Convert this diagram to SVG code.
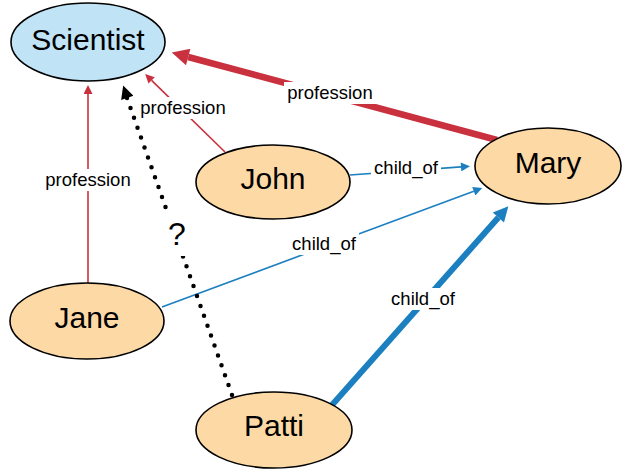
<svg xmlns="http://www.w3.org/2000/svg" width="622" height="471" viewBox="0 0 622 471">
<style>
.node{stroke:#000;stroke-width:1.6}
.sci{fill:#c0e4f6}
.per{fill:#fdd9a6}
.nt{font-family:"Liberation Sans",Arial,sans-serif;font-size:30px;text-anchor:middle;fill:#000}
.lt{font-family:"Liberation Sans",Arial,sans-serif;font-size:18.5px;text-anchor:middle;fill:#000}
.red{stroke:#c8313d;fill:none}
.blue{stroke:#1b7fc0;fill:none}
.dot{stroke:#000;fill:none;stroke-width:4.5;stroke-linecap:round;stroke-dasharray:0 10.5}
.bg{fill:#fff}
</style>
<defs>
<marker id="ar" markerUnits="userSpaceOnUse" viewBox="0 0 10 10" refX="0" refY="5" markerWidth="12" markerHeight="9" orient="auto"><path d="M0,0L10,5L0,10z" fill="#c8313d"/></marker>
<marker id="arB" markerUnits="userSpaceOnUse" viewBox="0 0 10 10" refX="0" refY="5" markerWidth="25" markerHeight="17" orient="auto"><path d="M0,0L10,5L0,10z" fill="#c8313d"/></marker>
<marker id="ab" markerUnits="userSpaceOnUse" viewBox="0 0 10 10" refX="0" refY="5" markerWidth="12" markerHeight="9" orient="auto"><path d="M0,0L10,5L0,10z" fill="#1b7fc0"/></marker>
<marker id="abB" markerUnits="userSpaceOnUse" viewBox="0 0 10 10" refX="0" refY="5" markerWidth="22" markerHeight="15" orient="auto"><path d="M0,0L10,5L0,10z" fill="#1b7fc0"/></marker>
<marker id="ak" markerUnits="userSpaceOnUse" viewBox="0 0 10 10" refX="0" refY="5" markerWidth="19" markerHeight="13" orient="auto"><path d="M0,0L10,5L0,10z" fill="#000"/></marker>
</defs>
<g id="connectors">
<line class="red" stroke-width="6.5" x1="497" y1="140" x2="188.2" y2="57" marker-end="url(#arB)"/>
<line class="red" stroke-width="1.6" x1="225" y1="152" x2="151.6" y2="80.4" marker-end="url(#ar)"/>
<line class="red" stroke-width="1.6" x1="88" y1="283" x2="88" y2="94" marker-end="url(#ar)"/>
<line class="blue" stroke-width="1.6" x1="350" y1="175" x2="461" y2="166.9" marker-end="url(#ab)"/>
<line class="blue" stroke-width="1.6" x1="162" y1="307" x2="473.8" y2="191.2" marker-end="url(#ab)"/>
<line class="blue" stroke-width="6" x1="332" y1="405" x2="498.4" y2="217.5" marker-end="url(#abB)"/>
<line class="dot" x1="232" y1="395" x2="127" y2="98"/>
<line stroke="none" x1="130" y1="106" x2="127.3" y2="97.9" marker-end="url(#ak)"/>
<rect class="bg" x="284" y="82" width="92" height="22"/>
<text class="lt" x="330" y="99">profession</text>
<rect class="bg" x="138" y="97" width="90" height="22"/>
<text class="lt" x="183" y="114">profession</text>
<rect class="bg" x="43" y="169" width="90" height="22"/>
<text class="lt" x="88" y="186">profession</text>
<rect class="bg" x="371" y="157" width="70" height="22"/>
<text class="lt" x="406" y="174">child_of</text>
<rect class="bg" x="289" y="233" width="70" height="22"/>
<text class="lt" x="324" y="250">child_of</text>
<rect class="bg" x="388" y="288" width="70" height="22"/>
<text class="lt" x="423" y="305">child_of</text>
<rect class="bg" x="162" y="212" width="30" height="44"/>
<text class="nt" style="font-size:32px" x="177" y="245">?</text>
</g>
<g id="scientist"><ellipse class="node sci" cx="88" cy="42" rx="77" ry="39"/><text class="nt" x="88" y="50">Scientist</text></g>
<g id="john"><ellipse class="node per" cx="273" cy="182" rx="77" ry="37"/><text class="nt" x="273" y="189">John</text></g>
<g id="mary"><ellipse class="node per" cx="548" cy="166" rx="73" ry="38"/><text class="nt" x="548" y="173">Mary</text></g>
<g id="jane"><ellipse class="node per" cx="87" cy="321" rx="77" ry="38"/><text class="nt" x="87" y="328">Jane</text></g>
<g id="patti"><ellipse class="node per" cx="274" cy="430" rx="78" ry="38"/><text class="nt" x="274" y="436">Patti</text></g>
</svg>
